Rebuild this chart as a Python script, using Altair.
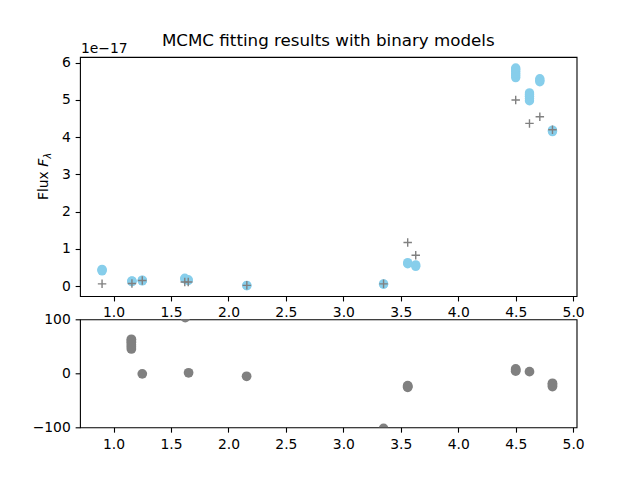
import altair as alt
import pandas as pd

# Posterior model fluxes at each band (wavelength in micron, flux in units of 1e-17)
model_wave = [0.90, 0.90, 0.90,
              1.16, 1.16, 1.16,
              1.25, 1.25, 1.25,
              1.62, 1.62,
              1.65, 1.65,
              2.16, 2.16,
              3.35, 3.35,
              3.56, 3.56,
              3.63, 3.63,
              4.50, 4.50, 4.50, 4.50, 4.50, 4.50,
              4.62, 4.62, 4.62, 4.62, 4.62,
              4.71, 4.71, 4.71,
              4.82, 4.82, 4.82]
model_flux = [0.41, 0.43, 0.45,
              0.12, 0.13, 0.14,
              0.14, 0.15, 0.16,
              0.19, 0.21,
              0.15, 0.17,
              0.01, 0.02,
              0.05, 0.06,
              0.60, 0.63,
              0.53, 0.57,
              5.60, 5.66, 5.71, 5.77, 5.82, 5.86,
              4.98, 5.04, 5.10, 5.15, 5.19,
              5.49, 5.53, 5.57,
              4.15, 4.17, 4.19]

# Observed photometry (same units)
obs_wave = [0.90, 1.16, 1.25, 1.62, 1.65, 2.16, 3.35, 3.56, 3.63, 4.50, 4.62, 4.71, 4.82]
obs_flux = [0.06, 0.07, 0.15, 0.11, 0.11, 0.02, 0.06, 1.17, 0.83, 5.00, 4.37, 4.55, 4.20]

# Residuals (percent)
resid_wave = [1.155, 1.155, 1.155, 1.155, 1.155, 1.155,
              1.25, 1.624, 1.653, 2.158, 3.35,
              3.56, 3.56, 3.56,
              4.50, 4.50, 4.50,
              4.62,
              4.82, 4.82, 4.82]
resid_pct = [45, 49, 53, 57, 60, 63,
             -1, 103, 1, -5.5, -102,
             -23, -24.5, -26,
             4, 6, 8,
             3,
             -18.5, -21, -24.5]

x_ticks = [1.0, 1.5, 2.0, 2.5, 3.0, 3.5, 4.0, 4.5, 5.0]
flux_ticks = [0, 1, 2, 3, 4, 5, 6]
resid_ticks = [-100, 0, 100]

FONT = "DejaVu Sans"
PLOT_W = 496.6
TOP_H = 239.1
BOT_H = 108.0
LEFT = 80.7
TOP = 57.6
NUDGE = 1.8  # layout bounds add a little extra around the corner marker

models = pd.DataFrame({"wave": model_wave, "flux": model_flux})
obs = pd.DataFrame({"wave": obs_wave, "flux": obs_flux})
resid = pd.DataFrame({"wave": resid_wave, "resid": resid_pct})

x_scale = alt.Scale(domain=[0.708, 5.03], nice=False, zero=False)
x_axis = alt.Axis(values=x_ticks, format=".1f", title=None)

x_enc = alt.X("wave:Q", scale=x_scale, axis=x_axis)
y_flux = alt.Y("flux:Q", scale=alt.Scale(domain=[-0.269, 6.154], nice=False, zero=False),
               axis=alt.Axis(values=flux_ticks, format="d", title=None))

model_pts = alt.Chart(models).mark_point(
    shape="circle", filled=True, color="#87ceeb", opacity=1, size=88, strokeWidth=0
).encode(x=x_enc, y=y_flux)

plus_path = "M-1,0L1,0M0,-1L0,1"
obs_pts = alt.Chart(obs).mark_point(
    shape=plus_path, filled=False, color="#808080", opacity=1, size=72, strokeWidth=1.4
).encode(x=x_enc, y=y_flux)

label_src = pd.DataFrame({"k": [0]})

def note(text, x, y, **kw):
    return alt.Chart(label_src).mark_text(text=text, font=FONT, color="black", **kw).encode(
        x=alt.value(x), y=alt.value(y)
    )

title_txt = note("MCMC fitting results with binary models", PLOT_W / 2, -10.9,
                 fontSize=16.7, align="center", baseline="alphabetic")
offset_txt = note("1e\u221217", 1, -3.6, fontSize=13.9, align="left", baseline="alphabetic")
ylab_a = note("Flux ", -32.2, 143.1, fontSize=13.9, align="left", baseline="alphabetic", angle=270)
ylab_b = note("F", -32.2, 109.8, fontSize=13.9, align="left", baseline="alphabetic", angle=270,
              fontStyle="italic")
ylab_c = note("\u03bb", -29.2, 101.6, fontSize=9.7, align="left", baseline="alphabetic", angle=270,
              fontStyle="italic")

# fixes the top-left corner of the page
corner = alt.Chart(label_src).mark_rule(color="white", strokeWidth=0.2).encode(
    x=alt.value(-LEFT + NUDGE), x2=alt.value(-LEFT + NUDGE + 1), y=alt.value(-TOP + NUDGE)
)

top = alt.layer(corner, model_pts, obs_pts, title_txt, offset_txt, ylab_a, ylab_b, ylab_c).properties(
    width=PLOT_W, height=TOP_H
)

resid_pts = alt.Chart(resid).mark_point(
    shape="circle", filled=True, color="#808080", opacity=1, size=95, strokeWidth=0, clip=True
).encode(
    x=x_enc,
    y=alt.Y("resid:Q", scale=alt.Scale(domain=[-100, 100], nice=False, zero=False),
            axis=alt.Axis(values=resid_ticks, format="d", title=None,
                          labelExpr="replace(datum.label, '-', '\u2212')")),
)

bottom = resid_pts.properties(width=PLOT_W, height=BOT_H)

chart = alt.vconcat(top, bottom, spacing=22.3, bounds="flush").properties(
    padding=0, background="white"
).configure_view(
    stroke="black", strokeWidth=1.1
).configure_axis(
    labelFont=FONT, labelFontSize=13.9, labelColor="black",
    tickColor="black", tickSize=4.86, tickWidth=1.1, labelPadding=4.9,
    grid=False, domain=False
)

chart.save("out.html", embed_options={"renderer": "svg", "actions": False})
